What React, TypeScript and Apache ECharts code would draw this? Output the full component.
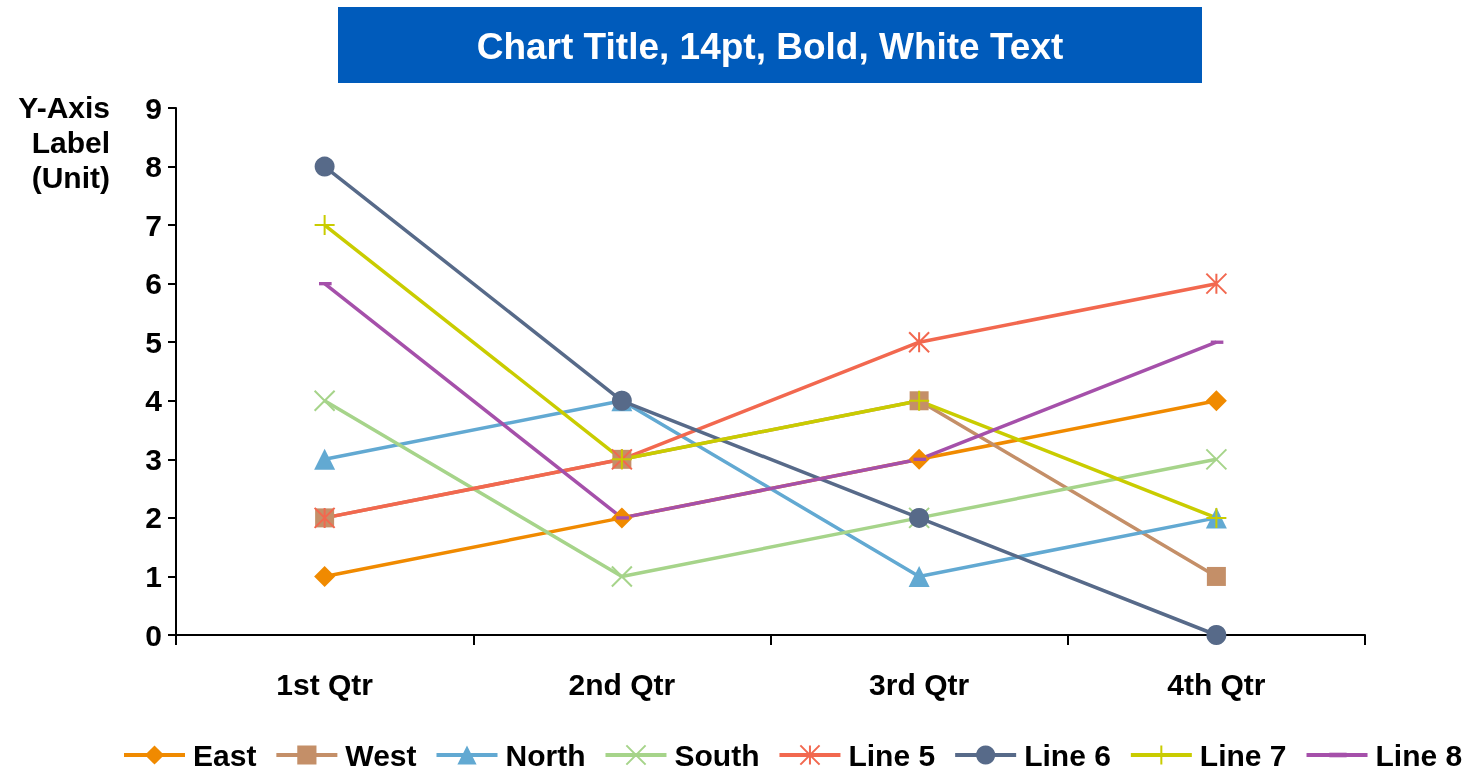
import React, { useEffect, useRef } from "react";
import * as echarts from "echarts";

const categories = ["1st Qtr", "2nd Qtr", "3rd Qtr", "4th Qtr"];
const seriesNames = ["East", "West", "North", "South", "Line 5", "Line 6", "Line 7", "Line 8"];
const east = [1, 2, 3, 4];
const west = [2, 3, 4, 1];
const north = [3, 4, 1, 2];
const south = [4, 1, 2, 3];
const line5 = [2, 3, 5, 6];
const line6 = [8, 4, 2, 0];
const line7 = [7, 3, 4, 2];
const line8 = [6, 2, 3, 5];
const seriesValues = [east, west, north, south, line5, line6, line7, line8];
const yTicks = [0, 1, 2, 3, 4, 5, 6, 7, 8, 9];

const colors = ["#F08A00", "#C48F68", "#62A9D2", "#A6D48A", "#F2684F", "#576A89", "#C9CC00", "#A550AA"];

const FONT = "'Liberation Sans', Arial, sans-serif";

type Sym = { symbol: string; size: number | number[]; stroke: boolean };
const symbols: Sym[] = [
  { symbol: "diamond", size: 21, stroke: false },
  { symbol: "rect", size: 19, stroke: false },
  { symbol: "triangle", size: 21, stroke: false },
  { symbol: "path://M0,0L10,10M10,0L0,10", size: 20, stroke: true },
  { symbol: "path://M0,0L10,10M10,0L0,10M5,0L5,10", size: 20, stroke: true },
  { symbol: "circle", size: 20, stroke: false },
  { symbol: "path://M5,0L5,10M0,5L10,5", size: 20, stroke: true },
  { symbol: "path://M0,0M10,10M1,3.8L10,3.8L10,6.2L1,6.2Z", size: 14, stroke: false },
];

export default function App() {
  const ref = useRef<HTMLDivElement>(null);
  useEffect(() => {
    if (!ref.current) return;
    const chart = echarts.init(ref.current, null, { renderer: "svg" });
    const series = seriesNames.map((name, i) => ({
      name,
      type: "line",
      data: seriesValues[i],
      symbol: symbols[i].symbol,
      symbolSize: symbols[i].size,
      showAllSymbol: true,
      lineStyle: { color: colors[i], width: 3.5 },
      itemStyle: symbols[i].stroke
        ? { color: "rgba(0,0,0,0)", borderColor: colors[i], borderWidth: 2 }
        : { color: colors[i], borderWidth: 0 },
      emphasis: { disabled: true },
    }));
    chart.setOption({
      animation: false,
      color: colors,
      textStyle: { fontFamily: FONT },
      grid: { left: 176, top: 108, width: 1189, height: 527, containLabel: false },
      graphic: [
        {
          type: "rect",
          shape: { x: 338, y: 7, width: 864, height: 76 },
          style: { fill: "#005BBB" },
        },
        {
          type: "text",
          x: 770,
          y: 46,
          style: {
            text: "Chart Title, 14pt, Bold, White Text",
            fill: "#FFFFFF",
            font: `bold 37px ${FONT}`,
            align: "center",
            verticalAlign: "middle",
          },
        },
        {
          type: "text",
          x: 110,
          y: 90,
          style: {
            text: "Y-Axis\nLabel\n(Unit)",
            fill: "#000000",
            font: `bold 30px ${FONT}`,
            lineHeight: 35,
            align: "right",
            verticalAlign: "top",
          },
        },
      ],
      xAxis: {
        type: "category",
        data: categories,
        boundaryGap: true,
        axisLine: { show: true, lineStyle: { color: "#000", width: 2 } },
        axisTick: { show: true, length: 10, alignWithLabel: false, lineStyle: { color: "#000", width: 2 } },
        axisLabel: { color: "#000", fontSize: 30, fontWeight: "bold", fontFamily: FONT, margin: 34 },
        splitLine: { show: false },
      },
      yAxis: {
        type: "value",
        min: yTicks[0],
        max: yTicks[yTicks.length - 1],
        interval: 1,
        axisLine: { show: true, lineStyle: { color: "#000", width: 2 } },
        axisTick: { show: true, length: 8, inside: false, lineStyle: { color: "#000", width: 2 } },
        axisLabel: { color: "#000", fontSize: 30, fontWeight: "bold", fontFamily: FONT, margin: 14 },
        splitLine: { show: false },
      },
      legend: {
        data: seriesNames,
        left: 117,
        top: 735,
        itemWidth: 61,
        itemHeight: 24,
        itemGap: 18,
        lineStyle: { width: 4 },
        textStyle: {
          color: "#000",
          fontSize: 30,
          lineHeight: 30,
          fontWeight: "bold",
          fontFamily: FONT,
          padding: [0, 0, 0, 3],
        },
      },
      series,
    });
    return () => chart.dispose();
  }, []);
  return <div ref={ref} style={{ position: "fixed", left: 0, top: 0, width: 1469, height: 776 }} />;
}
